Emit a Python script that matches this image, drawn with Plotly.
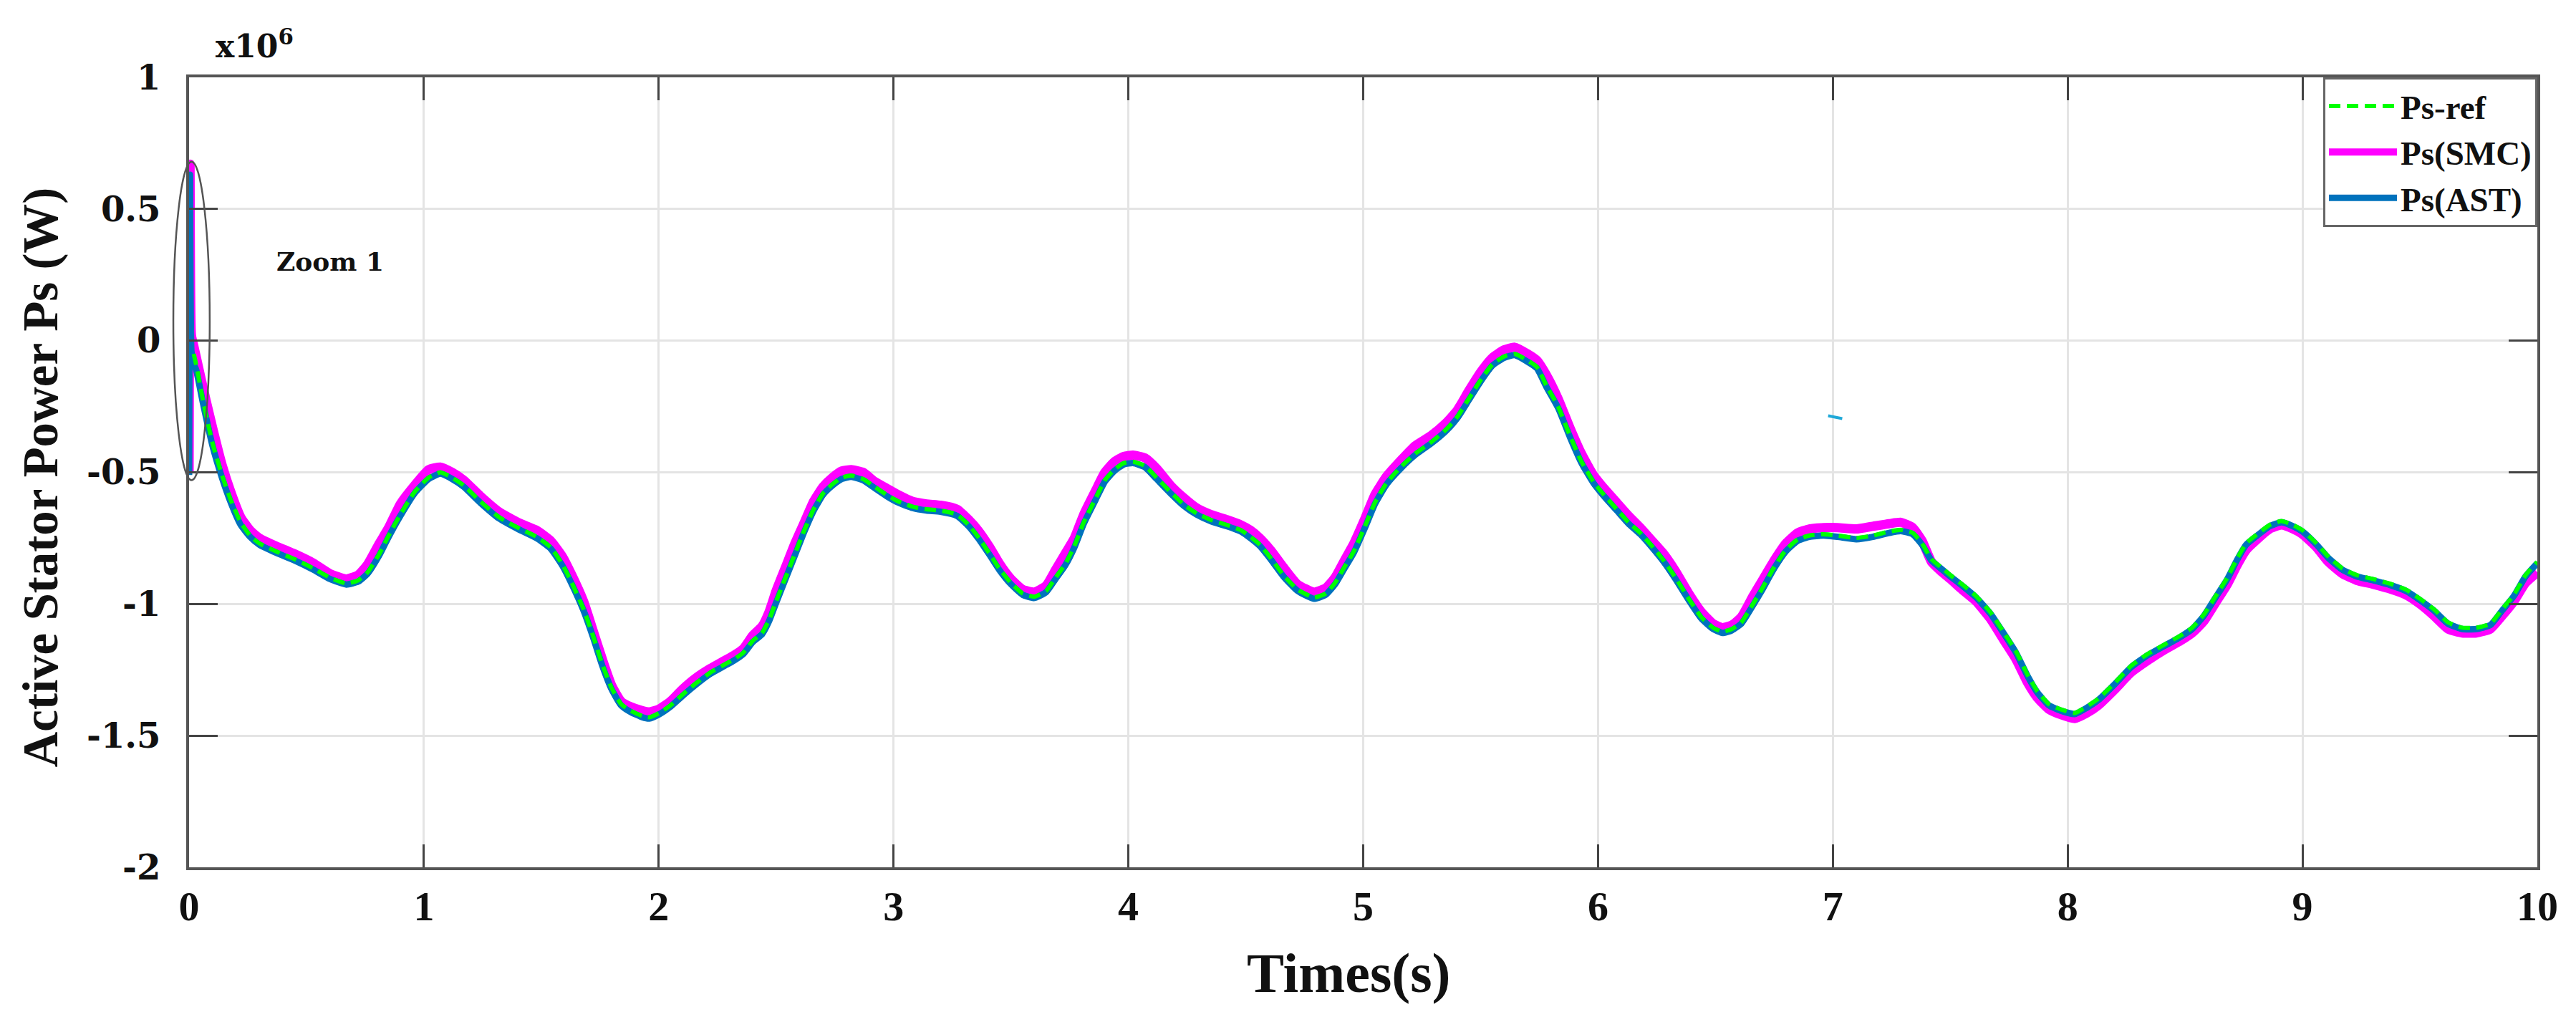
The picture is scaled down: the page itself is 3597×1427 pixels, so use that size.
import plotly.graph_objects as go

# Time axis (s) shared by the reference and the controller responses
t_ref = [0.02, 0.03, 0.06, 0.10, 0.14, 0.18, 0.22, 0.26, 0.30, 0.37, 0.45, 0.53, 0.60, 0.67, 0.72, 0.76, 0.81,
         0.85, 0.90, 0.96, 1.02, 1.07, 1.12, 1.17, 1.24, 1.32, 1.40, 1.48, 1.54, 1.59, 1.63, 1.68, 1.72, 1.76,
         1.80, 1.84, 1.88, 1.93, 1.96, 2.00, 2.05, 2.10, 2.16, 2.22, 2.27, 2.32, 2.36, 2.40, 2.44, 2.47, 2.50,
         2.54, 2.58, 2.62, 2.66, 2.70, 2.74, 2.78, 2.82, 2.87, 2.92, 2.97, 3.02, 3.08, 3.14, 3.20, 3.27, 3.32,
         3.36, 3.41, 3.45, 3.50, 3.55, 3.60, 3.65, 3.69, 3.73, 3.77, 3.81, 3.86, 3.90, 3.94, 3.98, 4.02, 4.07,
         4.12, 4.18, 4.24, 4.29, 4.35, 4.42, 4.48, 4.52, 4.56, 4.61, 4.66, 4.72, 4.79, 4.84, 4.88, 4.92, 4.96,
         5.01, 5.05, 5.10, 5.16, 5.22, 5.29, 5.35, 5.40, 5.45, 5.50, 5.55, 5.60, 5.645, 5.70, 5.74, 5.78, 5.83,
         5.88, 5.93, 5.98, 6.02, 6.08, 6.13, 6.18, 6.23, 6.28, 6.33, 6.39, 6.44, 6.49, 6.53, 6.57, 6.61, 6.66,
         6.70, 6.75, 6.80, 6.85, 6.90, 6.96, 7.02, 7.10, 7.17, 7.24, 7.29, 7.34, 7.38, 7.42, 7.46, 7.50, 7.55,
         7.61, 7.67, 7.73, 7.78, 7.83, 7.87, 7.92, 7.97, 8.03, 8.08, 8.13, 8.20, 8.27, 8.34, 8.41, 8.48, 8.53,
         8.58, 8.63, 8.68, 8.72, 8.76, 8.80, 8.86, 8.91, 8.96, 9.00, 9.06, 9.11, 9.17, 9.23, 9.30, 9.38, 9.44,
         9.50, 9.56, 9.62, 9.68, 9.74, 9.80, 9.85, 9.90, 9.95, 10.00]

# Ps reference (x10^6 W)
p_ref = [-0.05, -0.09, -0.23, -0.39, -0.51, -0.61, -0.69, -0.74, -0.77, -0.80, -0.83, -0.865, -0.90, -0.922,
         -0.91, -0.88, -0.81, -0.74, -0.66, -0.575, -0.52, -0.50, -0.52, -0.55, -0.61, -0.67, -0.71, -0.745,
         -0.785, -0.85, -0.92, -1.02, -1.12, -1.23, -1.32, -1.38, -1.405, -1.425, -1.43, -1.415, -1.385, -1.345,
         -1.30, -1.26, -1.235, -1.21, -1.185, -1.14, -1.11, -1.06, -0.99, -0.90, -0.81, -0.72, -0.64, -0.58,
         -0.545, -0.52, -0.512, -0.525, -0.555, -0.585, -0.61, -0.63, -0.64, -0.645, -0.66, -0.70, -0.745, -0.81,
         -0.865, -0.92, -0.96, -0.972, -0.95, -0.90, -0.85, -0.78, -0.69, -0.60, -0.53, -0.49, -0.465, -0.46,
         -0.475, -0.52, -0.575, -0.625, -0.655, -0.68, -0.70, -0.72, -0.745, -0.775, -0.83, -0.89, -0.945, -0.975,
         -0.96, -0.92, -0.86, -0.80, -0.70, -0.615, -0.54, -0.48, -0.43, -0.385, -0.34, -0.29, -0.22, -0.15,
         -0.09, -0.06, -0.05, -0.075, -0.10, -0.17, -0.25, -0.36, -0.46, -0.535, -0.58, -0.64, -0.69, -0.73,
         -0.78, -0.835, -0.90, -0.985, -1.05, -1.09, -1.105, -1.095, -1.07, -1.00, -0.94, -0.86, -0.795, -0.755,
         -0.74, -0.735, -0.74, -0.749, -0.74, -0.725, -0.718, -0.73, -0.77, -0.83, -0.86, -0.89, -0.925, -0.97,
         -1.03, -1.11, -1.18, -1.27, -1.33, -1.38, -1.40, -1.414, -1.39, -1.36, -1.30, -1.235, -1.19, -1.155,
         -1.12, -1.09, -1.04, -0.97, -0.90, -0.83, -0.77, -0.74, -0.70, -0.685, -0.70, -0.72, -0.77, -0.82,
         -0.865, -0.89, -0.905, -0.925, -0.945, -0.98, -1.02, -1.07, -1.09, -1.09, -1.075, -1.02, -0.965, -0.89,
         -0.84]

# Start-up transient (x10^6 W)
t_start = [0.0, 0.004, 0.010]
p_ast_start = [-0.51, 0.63, -0.04]
p_smc_start = [-0.50, 0.67, 0.02]

# Ps with the SMC controller (x10^6 W)
p_smc = [-0.02, -0.06, -0.18, -0.33, -0.47, -0.58, -0.67, -0.72, -0.75, -0.78, -0.81, -0.845, -0.885, -0.905,
         -0.89, -0.85, -0.77, -0.71, -0.62, -0.55, -0.49, -0.48, -0.50, -0.53, -0.59, -0.65, -0.69, -0.72,
         -0.76, -0.82, -0.89, -0.99, -1.10, -1.21, -1.31, -1.37, -1.39, -1.405, -1.41, -1.40, -1.37, -1.325,
         -1.28, -1.245, -1.22, -1.195, -1.17, -1.12, -1.085, -1.03, -0.95, -0.86, -0.77, -0.69, -0.61, -0.555,
         -0.52, -0.495, -0.49, -0.50, -0.535, -0.56, -0.585, -0.61, -0.62, -0.625, -0.64, -0.68, -0.72, -0.785,
         -0.845, -0.905, -0.945, -0.955, -0.93, -0.87, -0.81, -0.75, -0.66, -0.57, -0.50, -0.46, -0.44, -0.435,
         -0.445, -0.485, -0.55, -0.60, -0.635, -0.66, -0.68, -0.70, -0.72, -0.75, -0.80, -0.86, -0.925, -0.955,
         -0.94, -0.90, -0.835, -0.77, -0.67, -0.585, -0.515, -0.455, -0.40, -0.36, -0.315, -0.265, -0.19, -0.12,
         -0.065, -0.035, -0.025, -0.05, -0.075, -0.13, -0.22, -0.33, -0.43, -0.51, -0.555, -0.615, -0.665, -0.71,
         -0.76, -0.81, -0.875, -0.965, -1.03, -1.075, -1.09, -1.08, -1.05, -0.97, -0.91, -0.835, -0.77, -0.73,
         -0.715, -0.71, -0.71, -0.715, -0.705, -0.695, -0.69, -0.71, -0.76, -0.84, -0.875, -0.905, -0.945, -0.99,
         -1.055, -1.14, -1.21, -1.30, -1.355, -1.40, -1.42, -1.435, -1.415, -1.385, -1.325, -1.26, -1.215, -1.175,
         -1.14, -1.11, -1.065, -0.995, -0.925, -0.855, -0.795, -0.76, -0.715, -0.70, -0.715, -0.735, -0.785, -0.84,
         -0.885, -0.91, -0.925, -0.945, -0.965, -1.00, -1.045, -1.095, -1.11, -1.11, -1.095, -1.045, -0.99, -0.92,
         -0.88]

# Ps with the AST controller (x10^6 W)
p_ast = [-0.09, -0.11, -0.24, -0.40, -0.52, -0.62, -0.70, -0.745, -0.775, -0.805, -0.835, -0.87, -0.905, -0.926,
         -0.915, -0.885, -0.815, -0.745, -0.665, -0.58, -0.525, -0.505, -0.525, -0.555, -0.615, -0.675, -0.715, -0.75,
         -0.79, -0.855, -0.925, -1.025, -1.125, -1.235, -1.325, -1.385, -1.41, -1.43, -1.435, -1.42, -1.39, -1.35,
         -1.305, -1.265, -1.24, -1.215, -1.19, -1.145, -1.115, -1.065, -0.995, -0.905, -0.815, -0.725, -0.645, -0.585,
         -0.55, -0.525, -0.517, -0.53, -0.56, -0.59, -0.615, -0.635, -0.645, -0.65, -0.665, -0.705, -0.75, -0.815,
         -0.87, -0.925, -0.965, -0.977, -0.955, -0.905, -0.855, -0.785, -0.695, -0.605, -0.535, -0.495, -0.47, -0.465,
         -0.48, -0.525, -0.58, -0.63, -0.66, -0.685, -0.705, -0.725, -0.75, -0.78, -0.835, -0.895, -0.95, -0.98,
         -0.965, -0.925, -0.865, -0.805, -0.705, -0.62, -0.545, -0.485, -0.435, -0.39, -0.345, -0.295, -0.225, -0.155,
         -0.095, -0.065, -0.055, -0.08, -0.105, -0.175, -0.255, -0.365, -0.465, -0.54, -0.585, -0.645, -0.695, -0.735,
         -0.785, -0.84, -0.905, -0.99, -1.055, -1.095, -1.11, -1.10, -1.075, -1.005, -0.945, -0.865, -0.80, -0.76,
         -0.745, -0.74, -0.745, -0.754, -0.745, -0.73, -0.723, -0.735, -0.775, -0.835, -0.865, -0.895, -0.93, -0.975,
         -1.035, -1.115, -1.185, -1.275, -1.335, -1.385, -1.405, -1.418, -1.395, -1.365, -1.305, -1.24, -1.195, -1.16,
         -1.125, -1.095, -1.045, -0.975, -0.905, -0.835, -0.775, -0.745, -0.705, -0.69, -0.705, -0.725, -0.775, -0.825,
         -0.87, -0.895, -0.91, -0.93, -0.95, -0.985, -1.025, -1.075, -1.095, -1.095, -1.08, -1.025, -0.97, -0.895,
         -0.845]

# small stray blue stroke in the original figure
t_stray = [6.98, 7.04]
p_stray = [-0.285, -0.296]

x_ticks = [0, 1, 2, 3, 4, 5, 6, 7, 8, 9, 10]
y_ticks = [1, 0.5, 0, -0.5, -1, -1.5, -2]
y_tick_text = ["1", "0.5", "0", "-0.5", "-1", "-1.5", "-2"]

SERIF = "Liberation Serif"
WIDE_SERIF = "DejaVu Serif"

fig = go.Figure()

fig.add_trace(go.Scatter(
    x=t_start + t_ref, y=p_smc_start + p_smc, name="Ps(SMC)", mode="lines",
    line=dict(color="#FF00FF", width=13, shape="spline", smoothing=0.5), legendrank=2
))
fig.add_trace(go.Scatter(
    x=t_start + t_ref, y=p_ast_start + p_ast, name="Ps(AST)", mode="lines",
    line=dict(color="#0072BD", width=9, shape="spline", smoothing=0.5), legendrank=3
))
fig.add_trace(go.Scatter(
    x=t_ref, y=p_ref, name="Ps-ref", mode="lines",
    line=dict(color="#00FF00", width=6, dash="16px,9px", shape="spline", smoothing=0.5), legendrank=1
))
fig.add_trace(go.Scatter(
    x=t_stray, y=p_stray, mode="lines", showlegend=False, hoverinfo="skip",
    line=dict(color="#1fa8d8", width=4)
))

# Zoom 1 ellipse around the start-up transient
fig.add_shape(type="circle", xref="paper", yref="y", x0=-0.0067, x1=0.0088, y0=-0.53, y1=0.68,
              line=dict(color="#555555", width=2.5), layer="above")

fig.add_annotation(x=0.60, y=0.30, xref="x", yref="y", text="Zoom 1", showarrow=False,
                   xanchor="center", yanchor="middle",
                   font=dict(family=WIDE_SERIF, size=36, color="#111111", weight="bold"))
fig.add_annotation(x=0.0107, y=1, xref="paper", yref="paper", xanchor="left", yanchor="bottom", yshift=16,
                   text="x10<sup>6</sup>", showarrow=False,
                   font=dict(family=WIDE_SERIF, size=44, color="#111111", weight="bold"))
fig.add_annotation(x=-0.063, y=0.494, xref="paper", yref="paper", textangle=-90,
                   xanchor="center", yanchor="middle",
                   text="Active Stator Power Ps (W)", showarrow=False,
                   font=dict(family=SERIF, size=69, color="#111111", weight="bold"))
fig.add_annotation(x=0.494, y=-0.134, xref="paper", yref="paper", xanchor="center", yanchor="middle",
                   text="Times(s)", showarrow=False,
                   font=dict(family=SERIF, size=78, color="#111111", weight="bold"))

fig.update_xaxes(
    range=[0, 10], tickvals=x_ticks, ticks="inside", ticklen=32, tickwidth=3, tickcolor="#444444",
    showgrid=True, gridcolor="#e4e4e4", gridwidth=3, zeroline=False,
    showline=True, linecolor="#555555", linewidth=4, mirror="ticks",
    tickfont=dict(family=SERIF, size=58, color="#111111", weight="bold"), ticklabelstandoff=0
)
fig.update_yaxes(
    range=[-2, 1], tickvals=y_ticks, ticktext=y_tick_text,
    ticks="inside", ticklen=40, tickwidth=3, tickcolor="#444444",
    showgrid=True, gridcolor="#e4e4e4", gridwidth=3, zeroline=False,
    showline=True, linecolor="#555555", linewidth=4, mirror="ticks",
    tickfont=dict(family=WIDE_SERIF, size=48, color="#111111", weight="bold"), ticklabelstandoff=26
)

fig.update_layout(
    width=3597, height=1427,
    margin=dict(l=256, r=62, t=100, b=224),
    paper_bgcolor="white", plot_bgcolor="white",
    showlegend=True,
    legend=dict(
        x=1, y=1, xanchor="right", yanchor="top",
        bgcolor="white", bordercolor="#666666", borderwidth=3,
        font=dict(family=SERIF, size=47, color="#111111", weight="bold"),
        itemwidth=95, tracegroupgap=0
    )
)

fig.write_html("out.html")
